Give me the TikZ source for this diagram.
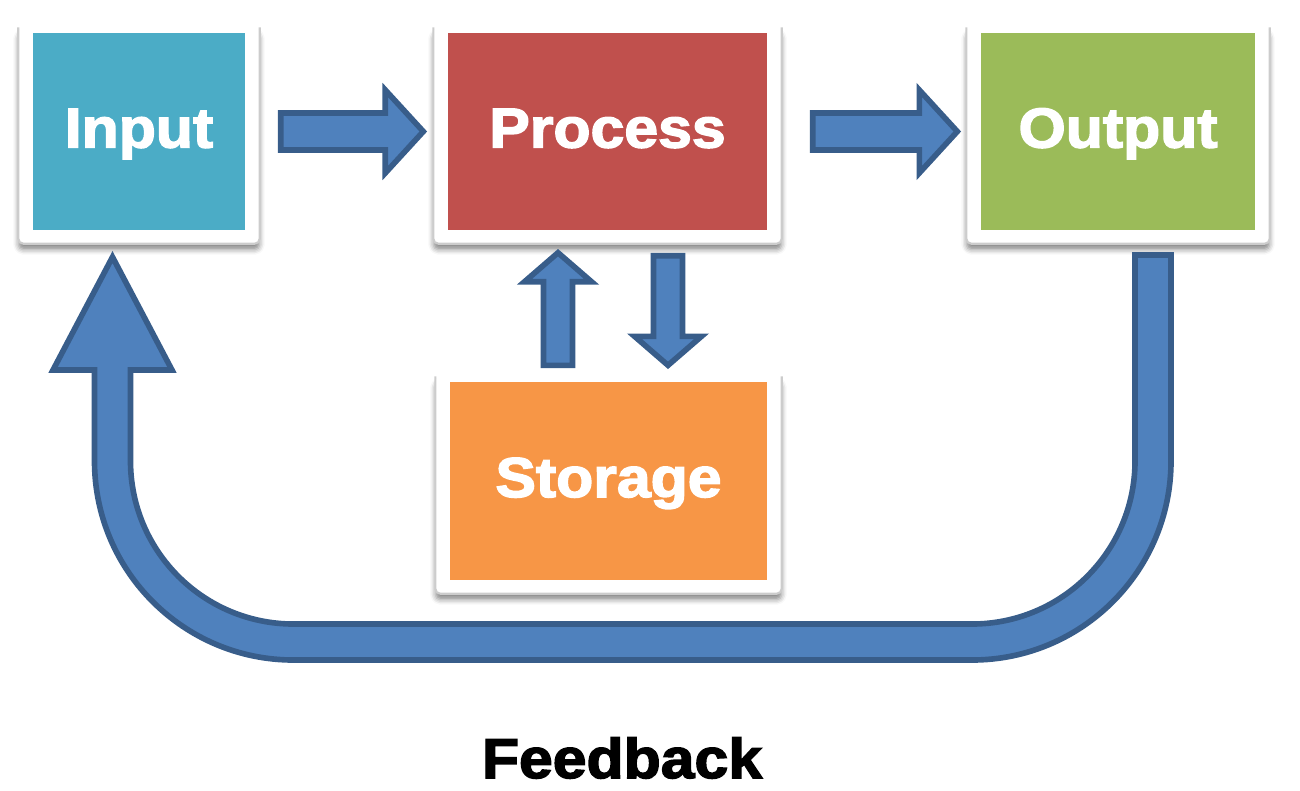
\documentclass[tikz,border=0pt]{standalone}
\usepackage{fontspec}
\setmainfont{Liberation Sans}
\newfontfamily\heavyfont{Liberation Sans Bold}[FakeBold=2.6,FakeStretch=1.08]
\usetikzlibrary{calc,backgrounds,shadows.blur}

\definecolor{inputblue}{HTML}{4BACC6}
\definecolor{processred}{HTML}{C0504D}
\definecolor{outputgreen}{HTML}{9BBB59}
\definecolor{storageorange}{HTML}{F79646}
\definecolor{arrowfill}{HTML}{4F81BD}
\definecolor{arrowedge}{HTML}{385D8A}

\tikzset{
  stage/.style={inner sep=0pt, text=white, minimum height=1.97cm,
    font=\heavyfont\fontsize{16}{16}\selectfont, text height=0.41cm, text depth=0.09cm},
  fatarrow/.style={draw=arrowedge, fill=arrowfill, line width=1.6pt},
  framebox/.style={fill=white, rounded corners=0.05cm,
    blur shadow={shadow xshift=0pt, shadow yshift=-0.06cm, shadow blur radius=0.05cm, shadow opacity=45}},
  frameedge/.style={draw=gray!40, line width=0.6pt, rounded corners=0.05cm}
}

% block arrow: tail, tip, shaft half width, head half width, head length
\newcommand{\blockarrow}[5]{%
  \coordinate (hb) at ($(#2)!#5!(#1)$);
  \draw[fatarrow] ($(#1)!#3!90:(#2)$) -- ($(hb)!#3!90:(#2)$) -- ($(hb)!#4!90:(#2)$) -- (#2)
    -- ($(hb)!#4!-90:(#2)$) -- ($(hb)!#3!-90:(#2)$) -- ($(#1)!#3!-90:(#2)$) -- cycle;
}

\begin{document}
\begin{tikzpicture}
\useasboundingbox (0,0) rectangle (13,-7.9);

% the four stages
\node[stage, fill=inputblue,    minimum width=2.12cm] (inp)  at ( 1.39, -1.315) {Input};
\node[stage, fill=processred,   minimum width=3.19cm] (proc) at ( 6.075,-1.315) {Process};
\node[stage, fill=outputgreen,  minimum width=2.74cm] (outp) at (11.18, -1.315) {Output};
\node[stage, fill=storageorange,minimum width=3.17cm, minimum height=1.98cm] (stor) at (6.085,-4.81) {Storage};

% white frames
\begin{scope}[on background layer]
\foreach \n in {inp,proc,outp,stor}{
  \fill[framebox] ($(\n.north west)+(-0.14,0.05)$) rectangle ($(\n.south east)+(0.14,-0.13)$);
  \draw[frameedge] ($(\n.north west)+(-0.14,0.05)$) -- ($(\n.south west)+(-0.14,-0.13)$)
    -- ($(\n.south east)+(0.14,-0.13)$) -- ($(\n.north east)+(0.14,0.05)$);
}
\end{scope}

% arrows between stages
\coordinate (a1s) at ($(inp.east)+(0.35,0)$);
\coordinate (a1e) at ($(proc.west)+(-0.24,0)$);
\coordinate (a2s) at ($(proc.east)+(0.45,0)$);
\coordinate (a2e) at ($(outp.west)+(-0.23,0)$);
\coordinate (ups) at ($(stor.north)+(-0.505,0.16)$);
\coordinate (upe) at ($(proc.south)+(-0.495,-0.22)$);
\coordinate (dns) at ($(proc.south)+(0.605,-0.25)$);
\coordinate (dne) at ($(stor.north)+(0.595,0.16)$);

\blockarrow{a1s}{a1e}{0.185cm}{0.415cm}{0.38cm}
\blockarrow{a2s}{a2e}{0.185cm}{0.415cm}{0.38cm}
\blockarrow{ups}{upe}{0.145cm}{0.335cm}{0.29cm}
\blockarrow{dns}{dne}{0.145cm}{0.335cm}{0.29cm}

% feedback loop
\draw[fatarrow] (11.35,-2.55) -- (11.71,-2.55) -- (11.71,-4.61)
  arc[start angle=0, end angle=-90, radius=1.99] -- (2.935,-6.60)
  arc[start angle=-90, end angle=-180, radius=1.99] -- (0.945,-3.70)
  -- (0.53,-3.70) -- (1.125,-2.57) -- (1.72,-3.70) -- (1.305,-3.70) -- (1.305,-4.61)
  arc[start angle=180, end angle=270, radius=1.63] -- (9.72,-6.24)
  arc[start angle=270, end angle=360, radius=1.63] -- cycle;

\node[font=\heavyfont\fontsize{16}{16}\selectfont, anchor=base] (fb) at (6.22,-7.78) {Feedback};
\end{tikzpicture}
\end{document}
